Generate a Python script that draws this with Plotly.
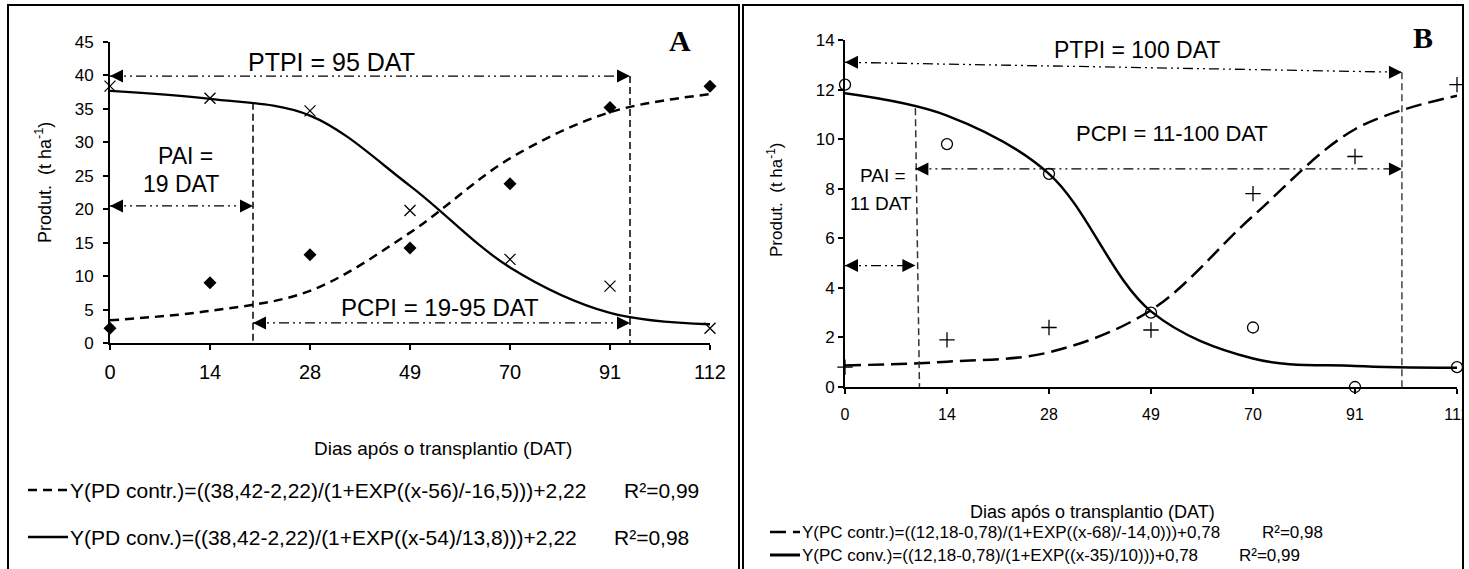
import plotly.graph_objects as go

W, H = 1469, 569

# ---- data -------------------------------------------------------------
dias = ["0", "14", "28", "49", "70", "91", "112"]
pos = [0, 1, 2, 3, 4, 5, 6]

# Panel A (PD)
pd_contr_obs = [2.2, 9.0, 13.2, 14.2, 23.8, 35.2, 38.4]
pd_conv_obs = [38.4, 36.6, 34.7, 19.8, 12.5, 8.5, 2.2]
pd_contr_fit = [3.4, 4.8, 7.8, 16.5, 27.6, 34.5, 37.2]
pd_conv_fit = [37.7, 36.5, 34.0, 23.5, 11.3, 4.5, 2.8]

# Panel B (PC)
pc_contr_obs = [0.8, 1.9, 2.4, 2.3, 7.8, 9.3, 12.2]
pc_conv_obs = [12.2, 9.8, 8.6, 3.0, 2.4, 0.0, 0.8]
pc_contr_fit = [0.87, 1.02, 1.40, 3.1, 6.9, 10.4, 11.75]
pc_conv_fit = [11.85, 10.95, 8.6, 3.05, 1.15, 0.85, 0.78]

eq_a = ["Y(PD contr.)=((38,42-2,22)/(1+EXP((x-56)/-16,5)))+2,22",
        "Y(PD conv.)=((38,42-2,22)/(1+EXP((x-54)/13,8)))+2,22"]
r2_a = ["R²=0,99", "R²=0,98"]
eq_b = ["Y(PC contr.)=((12,18-0,78)/(1+EXP((x-68)/-14,0)))+0,78",
        "Y(PC conv.)=((12,18-0,78)/(1+EXP((x-35)/10)))+0,78"]
r2_b = ["R²=0,98", "R²=0,99"]

# critical-period limits (axis position, value)
a_pai_x, a_ptpi_x = 1.43, 5.2
a_ptpi_y, a_pai_y, a_pcpi_y = 39.9, 20.5, 3.0
a_pai_top, a_ptpi_top = 35.9, 39.9

b_pai_x_top, b_pai_x_bot, b_ptpi_x = 0.69, 0.73, 5.46
b_ptpi_y = [13.1, 12.7]
b_pcpi_y, b_pai_y = 8.8, 4.9
b_pai_top, b_ptpi_top = 11.25, 12.7


def px(x):
    return x / W


def py(y):
    return 1 - y / H


FONT = "Liberation Sans, Arial, sans-serif"
SERIF = "Liberation Serif, Times New Roman, serif"
DDOT = "10px,4px,2px,4px,2px,4px"
DASH_A = "9px,6px"
DASH_B = "16px,7px"

fig = go.Figure()

# ---- Panel A ----------------------------------------------------------
fig.add_trace(go.Scatter(x=pos, y=pd_contr_fit, mode="lines", line=dict(color="black", width=2.5, dash=DASH_A, shape="spline"),
                         name=eq_a[0], showlegend=False, xaxis="x", yaxis="y"))
fig.add_trace(go.Scatter(x=pos, y=pd_conv_fit, mode="lines", line=dict(color="black", width=2.3, shape="spline"),
                         name=eq_a[1], showlegend=False, xaxis="x", yaxis="y"))
fig.add_trace(go.Scatter(x=pos, y=pd_contr_obs, mode="markers", marker=dict(symbol="diamond", size=10, color="black"),
                         showlegend=False, cliponaxis=False, xaxis="x", yaxis="y"))
fig.add_trace(go.Scatter(x=pos, y=pd_conv_obs, mode="markers",
                         marker=dict(symbol="x-thin-open", size=11, color="black", line=dict(color="black", width=1.3)),
                         showlegend=False, cliponaxis=False, xaxis="x", yaxis="y"))

# vertical limits
for xv, top in [(a_pai_x, a_pai_top), (a_ptpi_x, a_ptpi_top)]:
    fig.add_trace(go.Scatter(x=[xv, xv], y=[top, 0], mode="lines", line=dict(color="black", width=1.5, dash="7px,4px"),
                             showlegend=False, hoverinfo="skip", xaxis="x", yaxis="y"))
# double arrows
for x0, x1, yv in [(0, a_ptpi_x, a_ptpi_y), (0, a_pai_x, a_pai_y), (a_pai_x, a_ptpi_x, a_pcpi_y)]:
    fig.add_trace(go.Scatter(x=[x0, x1], y=[yv, yv], mode="lines+markers",
                             line=dict(color="black", width=1.3, dash=DDOT),
                             marker=dict(symbol=["arrow-left", "arrow-right"], size=13, color="black"),
                             showlegend=False, hoverinfo="skip", cliponaxis=False, xaxis="x", yaxis="y"))

# ---- Panel B ----------------------------------------------------------
fig.add_trace(go.Scatter(x=pos, y=pc_contr_fit, mode="lines", line=dict(color="black", width=2.5, dash=DASH_B, shape="spline"),
                         name=eq_b[0], showlegend=False, xaxis="x2", yaxis="y2"))
fig.add_trace(go.Scatter(x=pos, y=pc_conv_fit, mode="lines", line=dict(color="black", width=2.5, shape="spline"),
                         name=eq_b[1], showlegend=False, xaxis="x2", yaxis="y2"))
fig.add_trace(go.Scatter(x=pos, y=pc_contr_obs, mode="markers",
                         marker=dict(symbol="cross-thin-open", size=11, color="black", line=dict(color="black", width=1.3)),
                         showlegend=False, cliponaxis=False, xaxis="x2", yaxis="y2"))
fig.add_trace(go.Scatter(x=pos, y=pc_conv_obs, mode="markers",
                         marker=dict(symbol="circle-open", size=11, color="black", line=dict(color="black", width=1.3)),
                         showlegend=False, cliponaxis=False, xaxis="x2", yaxis="y2"))

fig.add_trace(go.Scatter(x=[b_pai_x_top, b_pai_x_bot], y=[b_pai_top, 0], mode="lines",
                         line=dict(color="#333", width=1.5, dash="7px,4px"),
                         showlegend=False, hoverinfo="skip", xaxis="x2", yaxis="y2"))
fig.add_trace(go.Scatter(x=[b_ptpi_x, b_ptpi_x], y=[b_ptpi_top, 0], mode="lines",
                         line=dict(color="#444", width=1.5, dash="7px,4px"),
                         showlegend=False, hoverinfo="skip", xaxis="x2", yaxis="y2"))
for xs, ys in [([0, b_ptpi_x], b_ptpi_y), ([b_pai_x_top, b_ptpi_x], [b_pcpi_y, b_pcpi_y]), ([0, b_pai_x_top], [b_pai_y, b_pai_y])]:
    fig.add_trace(go.Scatter(x=xs, y=ys, mode="lines+markers",
                             line=dict(color="black", width=1.3, dash=DDOT),
                             marker=dict(symbol=["arrow-left", "arrow-right"], size=13, color="black"),
                             showlegend=False, hoverinfo="skip", cliponaxis=False, xaxis="x2", yaxis="y2"))

# ---- axes ---------------------------------------------------------------
common = dict(showgrid=False, zeroline=False, showline=True, linecolor="black", linewidth=2,
              ticks="outside", ticklen=5, tickwidth=1.5, tickcolor="black", automargin=False,
              ticklabeloverflow="allow")

fig.update_layout(
    xaxis=dict(common, domain=[px(110), px(710)], range=[0, 6], tickvals=pos, ticktext=dias,
               tickfont=dict(family=FONT, size=20, color="black"), anchor="y", ticklabelstandoff=5),
    yaxis=dict(common, domain=[py(343), py(42)], range=[0, 45], dtick=5,
               tickfont=dict(family=FONT, size=17, color="black"), anchor="x", ticklabelstandoff=6),
    xaxis2=dict(common, domain=[px(845), px(1457)], range=[0, 6], tickvals=pos, ticktext=dias,
                tickfont=dict(family=FONT, size=16, color="black"), anchor="y2", ticklabelstandoff=7),
    yaxis2=dict(common, domain=[py(387), py(40)], range=[0, 14], dtick=2,
                tickfont=dict(family=FONT, size=17, color="black"), anchor="x2"),
)


# ---- texts -----------------------------------------------------------------
def ann(x, y, text, size, family=FONT, xanchor="center", **kw):
    d = dict(x=px(x), y=py(y), xref="paper", yref="paper", text=text, showarrow=False,
             xanchor=xanchor, yanchor="middle",
             font=dict(family=family, size=size, color="black"))
    d.update(kw)
    return d


annotations = [
    ann(331, 62, "PTPI = 95 DAT", 25),
    ann(185, 156, "PAI =", 23),
    ann(181, 184, "19 DAT", 23),
    ann(440, 307, "PCPI = 19-95 DAT", 24),
    ann(443, 448, "Dias após o transplantio (DAT)", 19),
    ann(43, 183, "Produt.  (t ha<sup>-1</sup>)", 18, textangle=-90),
    ann(680, 40, "<b>A</b>", 30, family=SERIF),
    ann(1137, 50, "PTPI = 100 DAT", 23),
    ann(1172, 133, "PCPI = 11-100 DAT", 22),
    ann(883, 175, "PAI =", 19),
    ann(881, 203, "11 DAT", 19),
    ann(1092, 512, "Dias após o transplantio (DAT)", 18),
    ann(775, 200, "Produt.  (t ha<sup>-1</sup>)", 17, textangle=-90),
    ann(1423, 38, "<b>B</b>", 30, family=SERIF),
]

shapes = []

# legend keys: line sample + equation + R²
leg_rows = [
    (28, 68, 490, DASH_A, 2.5, eq_a[0], r2_a[0], 622, 21),
    (28, 68, 537, "solid", 2.3, eq_a[1], r2_a[1], 612, 21),
    (770, 800, 532, DASH_B, 2.5, eq_b[0], r2_b[0], 1260, 17),
    (770, 800, 555, "solid", 3.0, eq_b[1], r2_b[1], 1237, 17),
]
for x0, x1, yv, dash, w, eq, r2, xr2, fs in leg_rows:
    shapes.append(dict(type="line", xref="paper", yref="paper", x0=px(x0), x1=px(x1), y0=py(yv), y1=py(yv),
                       line=dict(color="black", width=w, dash=dash)))
    annotations.append(ann(x1, yv, eq, fs, xanchor="left"))
    annotations.append(ann(xr2, yv, r2, fs, xanchor="left"))

# panel frames, with white strip past the right frame
shapes += [
    dict(type="rect", xref="paper", yref="paper", x0=px(1464), x1=1, y0=0, y1=1,
         line=dict(width=0), fillcolor="white", layer="above"),
    dict(type="rect", xref="paper", yref="paper", x0=px(8), x1=px(739), y0=py(575), y1=py(5),
         line=dict(color="black", width=2), layer="above"),
    dict(type="rect", xref="paper", yref="paper", x0=px(743), x1=px(1463), y0=py(575), y1=py(5),
         line=dict(color="black", width=2), layer="above"),
]

fig.update_layout(
    width=W, height=H, margin=dict(l=0, r=0, t=0, b=0, pad=0),
    paper_bgcolor="white", plot_bgcolor="white", showlegend=False,
    annotations=annotations, shapes=shapes,
    font=dict(family=FONT, color="black"),
)

fig.write_html("out.html")
